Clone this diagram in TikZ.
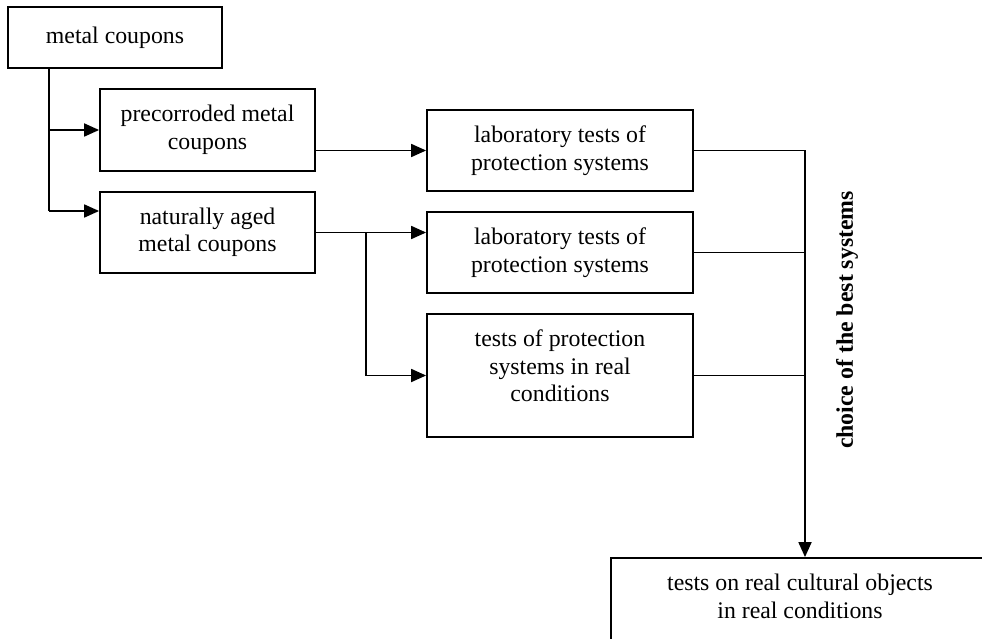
\documentclass[tikz,border=0pt]{standalone}
\usepackage{fontspec}
\setmainfont{Liberation Serif}
\usetikzlibrary{arrows.meta}
\tikzset{box/.style={draw,line width=1.8pt,rectangle,inner sep=0pt,align=center}}

\begin{document}
\begin{tikzpicture}[x=1pt,y=-1pt,line width=1.8pt,>={Triangle[length=15pt,width=13pt]},
                    font=\fontsize{23.8}{27.5}\selectfont]
                        \useasboundingbox (0,0) rectangle (982,639);
                        % left column
                        \node[box,minimum width=214pt,minimum height=61pt] (mc) at (115,37.5) {metal coupons};
                        \node[box,minimum width=215pt,minimum height=82pt] (pre) at (207.5,130) {precorroded metal\\coupons};
                        \node[box,minimum width=215pt,minimum height=81pt] (nat) at (207.5,232.5) {naturally aged\\metal coupons};
                        % tests
                        \node[box,minimum width=266pt,minimum height=81pt] (lab1) at (560,150.5) {laboratory tests of\\protection systems};
                        \node[box,minimum width=266pt,minimum height=81pt] (lab2) at (560,252.5) {laboratory tests of\\protection systems};
                        \node[box,minimum width=266pt,minimum height=123pt] (real) at (560,375.5) {};
                        \node[align=center] (realtxt) at ([yshift=9.5pt]real.center) {tests of protection\\systems in real\\conditions};
                        % final box, runs off the page
                        \node[box,minimum width=378pt,minimum height=110pt] (obj) at (800,613) {};
                        \node[align=center] (objtxt) at (800,596.5) {tests on real cultural objects\\in real conditions};
                        % branches
                        \coordinate (t1) at (49,130);
                        \coordinate (t2) at (49,211);
                        \draw (mc.south -| t1) -- (t2);
                        \draw[->] (t1) -- (t1 -| pre.west);
                        \draw[->] (t2) -- (t2 -| nat.west);
                        \draw[->] (pre.east |- lab1) -- (lab1.west);
                        \draw[->] (nat.east) -- (nat.east -| lab2.west);
                        \coordinate (b) at (366,232.5);
                        \draw[->] (b) |- (real.west);
                        % collector
                        \coordinate (c) at (805,150.5);
                        \draw (lab1.east) -- (c);
                        \draw (lab2.east) -- (lab2.east -| c);
                        \draw (real.east) -- (real.east -| c);
                        \draw[->] (c) -- (c |- obj.north);
                        \node[rotate=90,font=\fontsize{23.8}{27.5}\selectfont\bfseries] (best) at (847,320) {choice of the best systems};
                    \end{tikzpicture}
\end{document}
